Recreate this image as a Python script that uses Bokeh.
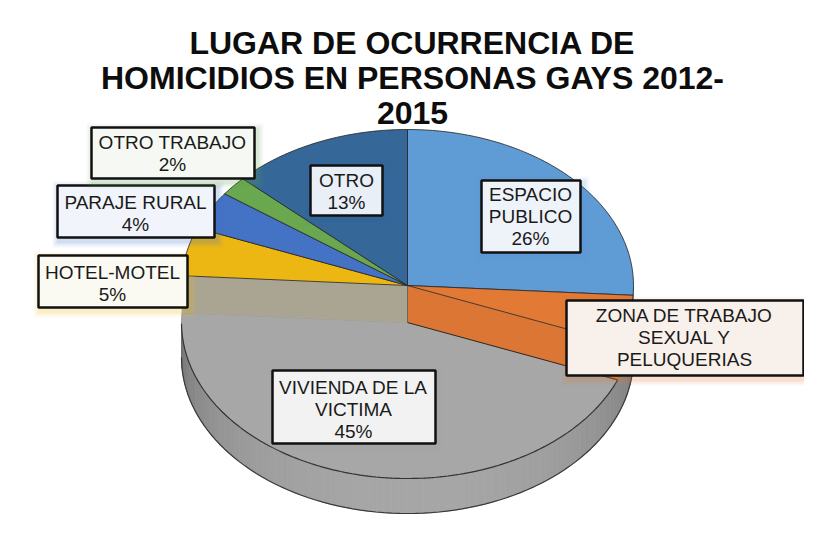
import numpy as np
from bokeh.plotting import figure
from bokeh.models import Range1d
from bokeh.embed import file_html
from bokeh.resources import INLINE
from bokeh.core.properties import value

# ---------------- data ----------------
title_lines = ["LUGAR DE OCURRENCIA DE", "HOMICIDIOS EN PERSONAS GAYS 2012-", "2015"]
categories = ["ESPACIO PUBLICO", "ZONA DE TRABAJO SEXUAL Y PELUQUERIAS",
              "VIVIENDA DE LA VICTIMA", "HOTEL-MOTEL", "PARAJE RURAL",
              "OTRO TRABAJO", "OTRO"]
percents = [26, 5, 45, 5, 4, 2, 13]
label_lines = [["ESPACIO", "PUBLICO"], ["ZONA DE TRABAJO", "SEXUAL Y", "PELUQUERIAS"],
               ["VIVIENDA DE LA", "VICTIMA"], ["HOTEL-MOTEL"], ["PARAJE RURAL"],
               ["OTRO TRABAJO"], ["OTRO"]]
show_percent = [True, False, True, True, True, True, True]

# ---------------- styles / layout ----------------
colors = ["#5F9BD5", "#E27A36", "#A7A7A7", "#EDB713", "#4472C4", "#6AA84F", "#356799"]
wall_colors = ["#4A82B8", "#C8652A", "#8C8C8C", "#C99A10", "#365DA3", "#578C40", "#2A5279"]
box_fill = ["#EEF3FA", "#F8F0EA", "#F2F2F2", "#FAF9F2", "#F1F4FA", "#F6F9F3", "#E9EFF7"]
# label boxes (left, right, top, bottom) and text position
box_l = [489, 574, 280, 46, 65, 99, 318]
box_r = [588, 811, 443, 195, 222, 262, 390]
box_t = [188, 308, 378, 263, 193, 135, 173]
box_b = [260, 383, 451, 315, 245, 186, 223]
txt_x = [538, 692, 361, 120, 143, 180, 354]
txt_y0 = [202, 323, 395, 280, 210, 150, 188]
LINE_H = 22

CX, CY, A, B = 415.0, 293.0, 226.0, 156.0
DROP, DEPTH = 37.0, 35.0
GREY = 2

W, H = 804, 534
p = figure(width=W, height=H, x_range=Range1d(8, 8 + W), y_range=Range1d(8 + H, 8),
           output_backend="svg", toolbar_location=None, min_border=0)
p.axis.visible = False
p.xgrid.visible = False
p.ygrid.visible = False
p.outline_line_color = None
p.background_fill_color = "white"
p.border_fill_color = "white"


def rim(t_deg, off=0.0):
    t = np.radians(np.asarray(t_deg, dtype=float))
    return CX + A * np.cos(t), CY - B * np.sin(t) + off


cum = np.cumsum([0] + percents)
th0 = 90 - 3.6 * cum[:-1]
th1 = 90 - 3.6 * cum[1:]

# ---- side band of the pie (front half) ----
xs, ys, cs = [], [], []
steps = np.linspace(0, -180, 91)
for ta, tb in zip(steps[:-1], steps[1:]):
    xa1, ya1 = rim(ta, DROP)
    xb1, yb1 = rim(tb, DROP)
    xa2, ya2 = rim(ta, DROP + DEPTH)
    xb2, yb2 = rim(tb, DROP + DEPTH)
    xs.append([xa1, xb1, xb2, xa2])
    ys.append([ya1, yb1, yb2, ya2])
    s = np.sin(np.radians(-(ta + tb) / 2))
    g = int(105 + 62 * s ** 0.6)
    cs.append("#%02x%02x%02x" % (g, g, g))
p.patches(xs, ys, fill_color=cs, line_color=cs, line_width=0.8)
bx, by = rim(steps, DROP + DEPTH)
p.line(bx, by, line_color="#3a3a3a", line_width=1.2)

# ---- outer walls of front non-grey slices ----
for i in range(len(percents)):
    if i == GREY:
        continue
    lo, hi = max(th1[i], -180), min(th0[i], 0)
    if lo >= hi:
        continue
    tt = np.linspace(hi, lo, 20)
    x1, y1 = rim(tt, 0)
    x2, y2 = rim(tt[::-1], DROP)
    p.patch(np.r_[x1, x2], np.r_[y1, y2], fill_color=wall_colors[i],
            line_color=wall_colors[i], line_width=0.5)

# ---- grey (lowered) top face ----
tt = np.linspace(th0[GREY], th1[GREY], 160)
gx, gy = rim(tt, DROP)
p.patch(np.r_[CX, gx], np.r_[CY + DROP, gy], fill_color=colors[GREY],
        line_color="#8f8f8f", line_width=0.8)
p.line(gx[(tt <= 0) & (tt >= -180)], gy[(tt <= 0) & (tt >= -180)],
       line_color="#333333", line_width=1.2)

# ---- inner walls facing the grey slice ----
ex, ey = rim(th1[GREY - 1])
p.patch([CX, ex, ex, CX], [CY, ey, ey + DROP, CY + DROP],
        fill_color="#DC7634", line_color="#DC7634", line_width=0.5)
hx, hy = rim(th0[GREY + 1])
p.patch([CX, hx, hx, CX], [CY, hy, hy + DROP, CY + DROP],
        fill_color="#AAA593", line_color="#AAA593", line_width=0.5)
p.line([CX, ex], [CY + DROP, ey + DROP], line_color="#2a2a2a", line_width=1)
p.line([CX, CX], [CY, CY + DROP], line_color="#555555", line_width=0.8)

# ---- top faces of the other slices ----
for i in range(len(percents)):
    if i == GREY:
        continue
    tt = np.linspace(th0[i], th1[i], max(6, int(percents[i] * 4)))
    sx, sy = rim(tt)
    p.patch(np.r_[CX, sx], np.r_[CY, sy], fill_color=colors[i],
            line_color="#2a2a2a", line_width=1, line_alpha=0.85)

# ---- label boxes with soft glow ----
for i in range(len(percents)):
    for k, a in ((7, 0.06), (5, 0.08), (3, 0.12)):
        p.quad(left=box_l[i] - k + 2, right=box_r[i] + k + 2, top=box_t[i] - k + 3,
               bottom=box_b[i] + k + 3, fill_color=colors[i], fill_alpha=a, line_color=None)
    p.quad(left=box_l[i], right=box_r[i], top=box_t[i], bottom=box_b[i],
           fill_color=box_fill[i], line_color="#111111", line_width=2.5)
    lines = list(label_lines[i]) + (["%d%%" % percents[i]] if show_percent[i] else [])
    ty = [txt_y0[i] + LINE_H * j for j in range(len(lines))]
    p.text(x=[txt_x[i]] * len(lines), y=ty, text=lines, text_font=value("Liberation Sans"),
           text_font_size="19px", text_align="center", text_baseline="middle",
           text_color="#1a1a1a")

# ---- title ----
p.text(x=[420] * 3, y=[50, 85, 120], text=title_lines,
       text_font=value("Liberation Sans"), text_font_style="bold",
       text_font_size="32px", text_align="center", text_baseline="middle",
       text_color="#0d0d0d")

open("out.html", "w").write(file_html(p, INLINE))
